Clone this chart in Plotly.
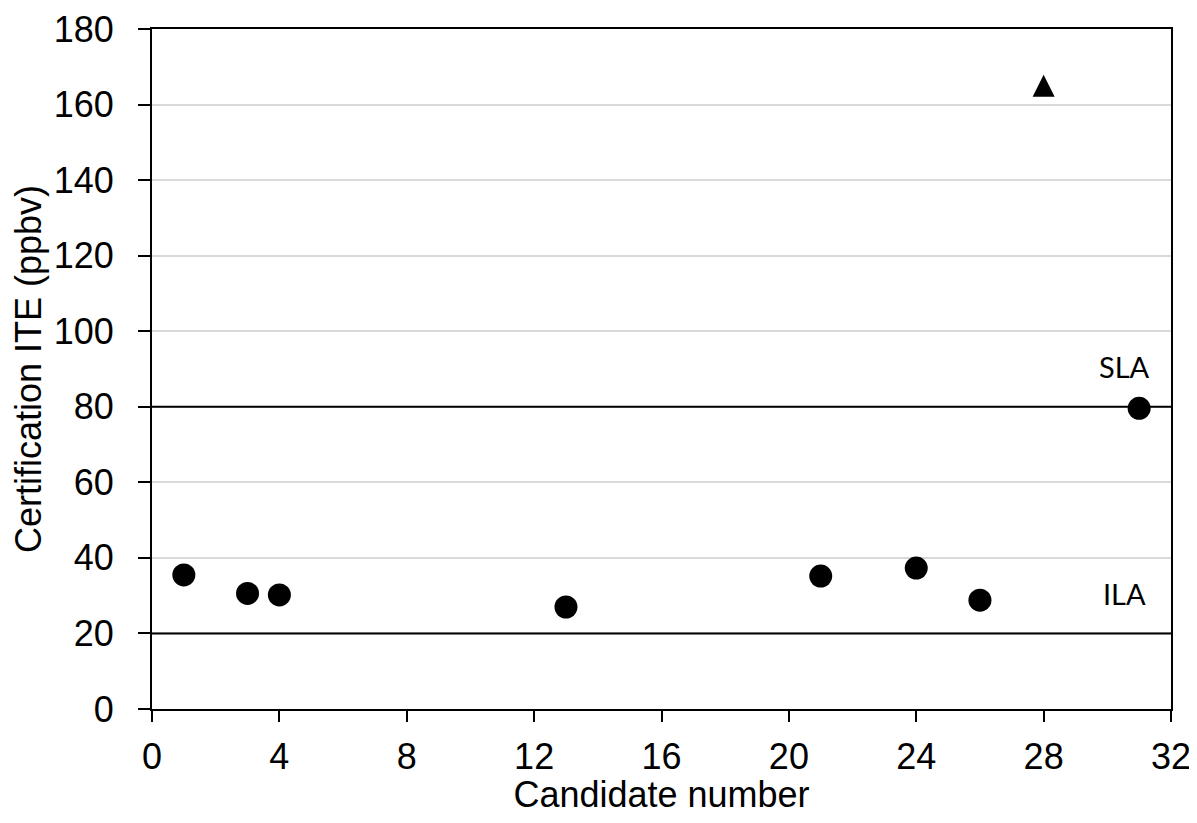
import plotly.graph_objects as go

candidates = [1, 3, 4, 13, 21, 24, 26, 31]
ite_values = [35.5, 30.6, 30.2, 27.0, 35.2, 37.3, 28.8, 79.6]
outlier_candidate = [28]
outlier_value = [165]
limit_values = [20, 80]
limit_labels = ["ILA", "SLA"]
x_ticks = [0, 4, 8, 12, 16, 20, 24, 28, 32]
y_ticks = [0, 20, 40, 60, 80, 100, 120, 140, 160, 180]

fig = go.Figure()
for v in limit_values:
    fig.add_shape(type="line", xref="paper", yref="y", x0=0, x1=1, y0=v, y1=v,
                  line=dict(color="black", width=2), layer="above")

fig.add_trace(go.Scatter(x=candidates, y=ite_values, mode="markers",
                         marker=dict(symbol="circle", size=23, color="black"),
                         showlegend=False, cliponaxis=False))
fig.add_trace(go.Scatter(x=outlier_candidate, y=outlier_value, mode="markers",
                         marker=dict(symbol="arrow-down", angle=180, size=22,
                                     color="black", standoff=11),
                         showlegend=False, cliponaxis=False))

for v, lab in zip(limit_values, limit_labels):
    fig.add_annotation(x=30.55, y=v, xref="x", yref="y", text=lab, showarrow=False,
                       yshift=40, xanchor="center", yanchor="middle",
                       font=dict(family="Lato, Carlito, sans-serif", size=29, color="black"))

axis_font = dict(family="Liberation Sans, Arial, sans-serif", size=36, color="black")
fig.update_layout(
    width=1189, height=807,
    margin=dict(l=144, r=26, t=21, b=106),
    plot_bgcolor="white", paper_bgcolor="white",
    font=axis_font,
    xaxis=dict(range=[0, 32], tickvals=x_ticks, showgrid=False, zeroline=False,
               showline=True, linecolor="black", linewidth=2, mirror=True,
               ticks="outside", ticklen=11, tickwidth=2, tickcolor="black",
               ticklabelstandoff=4, automargin=False,
               title=dict(text="Candidate number", font=axis_font, standoff=14)),
    yaxis=dict(range=[0, 180], tickvals=y_ticks, showgrid=True, gridcolor="#d9d9d9",
               gridwidth=2, zeroline=False,
               showline=True, linecolor="black", linewidth=2, mirror=True,
               ticks="outside", ticklen=12, tickwidth=2, tickcolor="black",
               ticklabelstandoff=17, automargin=False,
               title=dict(text="Certification ITE (ppbv)", font=axis_font, standoff=6)),
)

fig.write_html("out.html")
